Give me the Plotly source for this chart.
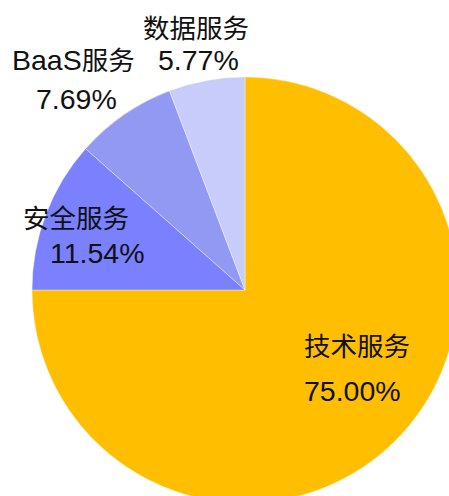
import re
import plotly.graph_objects as go

labels = ["技术服务", "安全服务", "BaaS服务", "数据服务"]
values = [75.00, 11.54, 7.69, 5.77]
pct_text = ["75.00%", "11.54%", "7.69%", "5.77%"]
colors = ["#FFBF00", "#7B80FF", "#9199F3", "#C8CCFA"]

# label anchor positions (pixels in the page) for name and percent lines
name_pos = [(357, 347), (76, 219), (73, 60), (196, 29)]
pct_pos = [(352, 391), (97, 253), (76, 99), (198, 60)]

W, H = 458, 503
ML, MT = 32, 77
PW, PH = W - ML, H - MT

CJK_SIZE = 26.5
LATIN_SIZE = 28.5

def to_paper(px, py):
    return (px - ML) / PW, 1 - (py - MT) / PH

def styled(s):
    return re.sub(r"([A-Za-z0-9.%]+)", lambda m: '<span style="font-size:%spx">%s</span>' % (LATIN_SIZE, m.group(1)), s)

fig = go.Figure(go.Pie(
    labels=labels, values=values, sort=False, direction="clockwise", rotation=0,
    marker=dict(colors=colors, line=dict(color="rgba(255,255,255,0.6)", width=0.6)),
    textinfo="none", hoverinfo="label+percent", showlegend=False,
    domain=dict(x=[0, 1], y=[0, 1]),
))

fam = "Liberation Sans, Arial, Noto Sans CJK SC, sans-serif"
ann = []
for i in range(len(labels)):
    x, y = to_paper(*name_pos[i])
    ann.append(dict(x=x, y=y, xref="paper", yref="paper", text=styled(labels[i]), showarrow=False,
                    xanchor="center", yanchor="middle",
                    font=dict(family=fam, size=CJK_SIZE, color="#111111")))
    x, y = to_paper(*pct_pos[i])
    ann.append(dict(x=x, y=y, xref="paper", yref="paper", text=pct_text[i], showarrow=False,
                    xanchor="center", yanchor="middle",
                    font=dict(family=fam, size=LATIN_SIZE, color="#111111")))

fig.update_layout(
    width=W, height=H, margin=dict(l=ML, r=0, t=MT, b=0, pad=0),
    paper_bgcolor="white", plot_bgcolor="white", annotations=ann,
)

fig.write_html("out.html", config={"displayModeBar": False}, post_script=(
    "document.body.style.margin='0';document.body.style.overflow='hidden';"
    "document.documentElement.style.overflow='hidden';"
))
